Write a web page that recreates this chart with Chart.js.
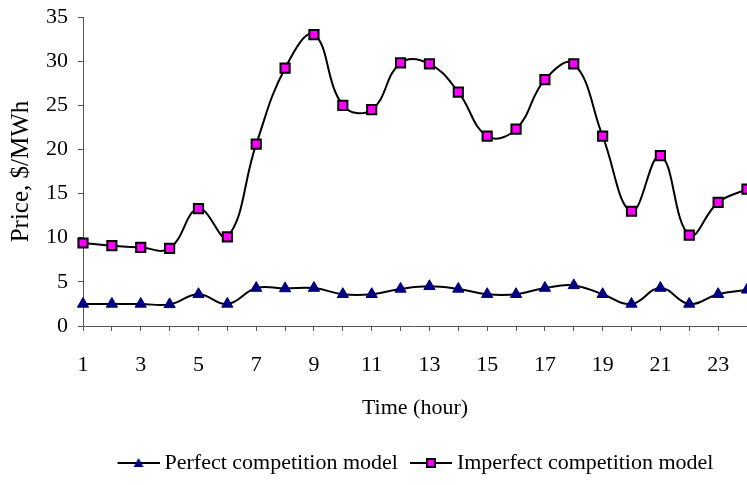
<!DOCTYPE html>
<html>
<head>
<meta charset="utf-8">
<script src="https://cdn.jsdelivr.net/npm/chart.js@4"></script>
<style>
html,body{margin:0;padding:0;background:#fff;}
#wrap{width:747px;height:485px;}
</style>
</head>
<body>
<div id="wrap"><canvas id="c" width="747" height="485"></canvas></div>
<script>
const hours = ['1','2','3','4','5','6','7','8','9','10','11','12','13','14','15','16','17','18','19','20','21','22','23','24'];
const tickLabels = ['1','','3','','5','','7','','9','','11','','13','','15','','17','','19','','21','','23',''];
const perfect = [2.5,2.5,2.5,2.45,3.6,2.5,4.3,4.25,4.3,3.6,3.6,4.2,4.5,4.2,3.6,3.6,4.3,4.6,3.6,2.5,4.3,2.5,3.6,4.1];
const imperfect = [9.4,9.1,8.9,8.8,13.3,10.1,20.6,29.2,33.0,25.0,24.5,29.8,29.7,26.5,21.5,22.3,27.9,29.7,21.5,13.0,19.3,10.3,14.0,15.5];
const seriesNames = ['Perfect competition model','Imperfect competition model'];

const FONT = "'Liberation Serif', 'Times New Roman', serif";

function legendIcon(kind){
  const c = document.createElement('canvas');
  c.width = 50; c.height = 14;
  const g = c.getContext('2d');
  g.strokeStyle = '#000'; g.lineWidth = 2;
  g.beginPath(); g.moveTo(8,7); g.lineTo(50,7); g.stroke();
  const cx = 29;
  if (kind === 'tri') {
    g.fillStyle = '#000080';
    g.beginPath(); g.moveTo(cx,2); g.lineTo(cx+5,11); g.lineTo(cx-5,11); g.closePath(); g.fill();
  } else {
    g.fillStyle = '#FF00FF'; g.lineWidth = 2; g.strokeStyle = '#000';
    g.fillRect(cx-4,3,8,8); g.strokeRect(cx-4,3,8,8);
  }
  return c;
}
const icons = [legendIcon('tri'), legendIcon('sq')];

const legendShift = {
  id: 'legendShift',
  afterLayout(chart){
    const l = chart.legend;
    if (l) {
      l.left = chart.chartArea.left - 1;
      l.right = chart.chartArea.right;
      l.width = l.right - l.left;
    }
  }
};

const axisColor = '#555';

new Chart(document.getElementById('c'), {
  type: 'line',
  data: {
    labels: hours,
    datasets: [
      {
        label: seriesNames[0],
        data: perfect,
        borderColor: '#000',
        borderWidth: 2,
        tension: 0.42,
        pointStyle: 'triangle',
        pointRadius: 6.5,
        pointBackgroundColor: '#000080',
        pointBorderColor: '#000080',
        pointBorderWidth: 1,
        fill: false
      },
      {
        label: seriesNames[1],
        data: imperfect,
        borderColor: '#000',
        borderWidth: 2,
        tension: 0.42,
        pointStyle: 'rect',
        pointRadius: 6.5,
        pointBackgroundColor: '#FF00FF',
        pointBorderColor: '#000',
        pointBorderWidth: 2,
        fill: false
      }
    ]
  },
  options: {
    responsive: false,
    animation: false,
    layout: { autoPadding: false, padding: { top: 17, right: 0, bottom: 1, left: 0 } },
    plugins: {
      tooltip: { enabled: false },
      legend: {
        position: 'bottom',
        labels: {
          usePointStyle: true,
          pointStyleWidth: 38,
          padding: 10,
          color: '#000',
          font: { family: FONT, size: 22 },
          generateLabels(chart){
            const items = Chart.defaults.plugins.legend.labels.generateLabels(chart);
            items.forEach((it, i) => { it.pointStyle = icons[i]; });
            return items;
          }
        }
      }
    },
    scales: {
      x: {
        offset: false,
        afterFit(scale){ scale.paddingRight = 0; scale.paddingLeft = 0; },
        grid: { display: true, drawOnChartArea: false, drawTicks: true, tickLength: 5, color: axisColor, offset: false },
        border: { display: true, color: axisColor, width: 1 },
        ticks: {
          autoSkip: false, maxRotation: 0, minRotation: 0, padding: 0,
          color: '#000', font: { family: FONT, size: 22, lineHeight: '68px' },
          callback: (v, i) => tickLabels[i]
        },
        title: {
          display: true, text: 'Time (hour)', color: '#000',
          font: { family: FONT, size: 22, lineHeight: '11px' }, padding: { top: 3.5, bottom: 28.5 }
        }
      },
      y: {
        min: 0, max: 35,
        afterFit(scale){ scale.paddingTop = 0; },
        grid: { display: true, drawOnChartArea: false, drawTicks: true, tickLength: 5, color: axisColor },
        border: { display: true, color: axisColor, width: 1 },
        ticks: { stepSize: 5, padding: 10, color: '#000', font: { family: FONT, size: 22 } },
        title: {
          display: true, text: 'Price, $/MWh', color: '#000',
          font: { family: FONT, size: 25, lineHeight: '30px' }, padding: { top: 6, bottom: 0 }
        }
      }
    }
  },
  plugins: [legendShift]
});
</script>
</body>
</html>
